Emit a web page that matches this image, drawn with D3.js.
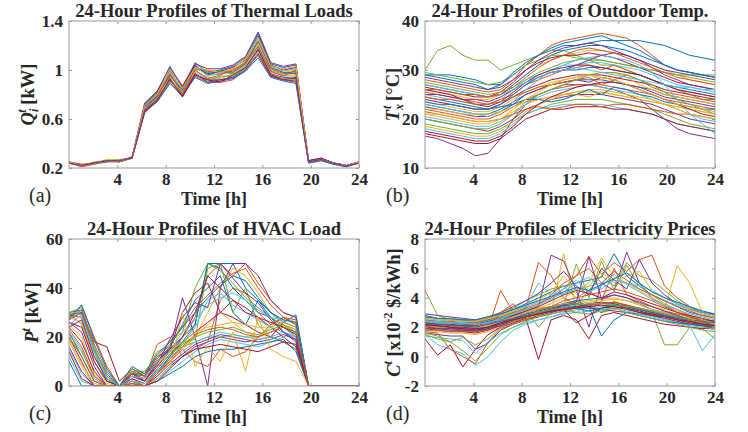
<!DOCTYPE html>
<html><head><meta charset="utf-8">
<script src="https://cdn.jsdelivr.net/npm/d3@7"></script>
<style>
html,body{margin:0;padding:0;background:#fff;}
svg text{font-family:"Liberation Serif","Times New Roman",Times,serif;fill:#262626;}
</style></head>
<body><svg id="c" width="748" height="432"></svg>
<script>
// ---------- DATA ----------
const nPts = 24;                       // 24 samples spread over 0..24 h
const xTicks = [4, 8, 12, 16, 20, 24];
const palette = ["#0072BD","#D95319","#EDB120","#7E2F8E","#77AC30","#4DBEEE","#A2142F"];

const thermalTicks = [0.2, 0.6, 1, 1.4];
const thermalLoads = [
 [0.25,0.22,0.24,0.26,0.26,0.28,0.72,0.82,1.03,0.85,1.06,0.98,1.00,1.03,1.10,1.30,1.05,1.02,1.04,0.26,0.28,0.24,0.22,0.25],
 [0.24,0.21,0.23,0.25,0.25,0.28,0.65,0.75,0.90,0.78,0.95,0.90,0.90,0.92,1.00,1.12,0.95,0.92,0.90,0.24,0.26,0.23,0.21,0.24],
 [0.25,0.22,0.24,0.27,0.26,0.29,0.70,0.80,0.98,0.84,1.02,0.97,0.96,1.00,1.07,1.26,1.02,0.98,1.00,0.25,0.27,0.24,0.22,0.25],
 [0.24,0.22,0.24,0.26,0.25,0.28,0.66,0.76,0.92,0.80,0.96,0.92,0.92,0.94,1.02,1.16,0.97,0.94,0.93,0.25,0.27,0.24,0.22,0.24],
 [0.25,0.22,0.25,0.26,0.27,0.28,0.69,0.79,0.96,0.83,1.00,1.00,0.98,0.97,1.04,1.20,1.00,0.96,0.98,0.25,0.27,0.24,0.22,0.25],
 [0.24,0.22,0.24,0.26,0.26,0.28,0.67,0.77,0.93,0.81,0.98,0.93,0.94,0.96,1.03,1.18,0.99,0.95,0.95,0.25,0.27,0.24,0.22,0.24],
 [0.25,0.23,0.24,0.26,0.26,0.28,0.71,0.81,1.00,0.86,1.04,0.96,0.99,1.02,1.08,1.28,1.04,1.00,1.02,0.26,0.28,0.24,0.22,0.25],
 [0.24,0.22,0.24,0.25,0.26,0.28,0.66,0.74,0.89,0.79,0.94,0.89,0.91,0.93,0.99,1.10,0.94,0.91,0.89,0.24,0.26,0.23,0.21,0.24],
 [0.25,0.22,0.24,0.26,0.26,0.28,0.70,0.78,0.97,0.82,1.01,0.99,0.97,0.99,1.06,1.24,1.01,0.97,0.99,0.25,0.27,0.24,0.22,0.25],
 [0.24,0.22,0.24,0.26,0.26,0.28,0.68,0.77,0.94,0.80,0.99,0.94,0.93,0.97,1.04,1.21,0.98,0.96,0.96,0.25,0.27,0.24,0.22,0.24],
 [0.25,0.22,0.24,0.26,0.26,0.29,0.73,0.83,1.02,0.87,1.05,1.01,1.01,1.04,1.11,1.31,1.06,1.03,1.05,0.26,0.28,0.24,0.22,0.25],
 [0.24,0.22,0.24,0.26,0.25,0.28,0.67,0.76,0.91,0.81,0.97,0.91,0.95,0.95,1.01,1.14,0.96,0.93,0.92,0.25,0.27,0.24,0.22,0.24],
 [0.25,0.22,0.24,0.26,0.26,0.28,0.69,0.80,0.99,0.83,1.03,0.95,0.97,1.01,1.09,1.27,1.03,0.99,1.01,0.25,0.27,0.24,0.22,0.25],
 [0.24,0.22,0.24,0.26,0.26,0.28,0.66,0.75,0.93,0.78,0.96,0.92,0.90,0.96,1.02,1.17,0.96,0.92,0.94,0.25,0.27,0.24,0.22,0.24],
 [0.25,0.22,0.24,0.26,0.26,0.28,0.70,0.79,0.95,0.84,1.03,0.97,0.99,0.98,1.05,1.23,1.02,0.98,0.97,0.25,0.27,0.24,0.22,0.25],
 [0.24,0.22,0.24,0.26,0.26,0.28,0.68,0.78,0.97,0.80,1.00,0.93,0.96,1.00,1.06,1.19,0.99,0.95,1.00,0.25,0.27,0.24,0.22,0.24],
 [0.25,0.22,0.24,0.26,0.26,0.28,0.71,0.80,1.01,0.85,1.02,1.00,0.98,1.01,1.09,1.25,1.03,1.01,1.03,0.25,0.27,0.24,0.22,0.25],
 [0.24,0.22,0.24,0.26,0.26,0.28,0.67,0.76,0.92,0.79,0.97,0.90,0.92,0.94,1.00,1.13,0.95,0.92,0.91,0.25,0.27,0.24,0.22,0.24]
];

const tempTicks = [10, 20, 30, 40];
const outdoorTemps = [
 [29,29,29,28.5,28,27,27,29,31,33,34,35,35,35.5,36,36,36,36,35.5,35,34,33,32.5,32],
 [28,27.5,27,26.5,26,25.5,26,28,31,33,35,36,36.5,37,37.5,37,36.5,35,33,31,30,29.5,29,28.5],
 [26,25.5,25,24.5,24,24,25,27,29,31,32,33,33.5,34,34,33.5,33,32,31,30,29,28,27.5,27],
 [16.5,16,15,14,12.5,13,16,20,23,25,26,27,27,27,26.5,26,25,24,22,20,18,17,16.5,16],
 [30,34,35,33,32,32,30,31,32,33,34,34,33,32,31,31,30,29,28,27,26,25,24,24],
 [25,24.5,24,23.5,23,23,24,26,28,29,30,31,31,31.5,31.5,31,30.5,30,29,28,27,26.5,26,25.5],
 [24,23.5,23,22.5,22,22,23,24.5,26,27,28,28.5,29,29,29,28.5,28,27.5,27,26,25.5,25,24.5,24],
 [23,22.5,22,21.5,21,21,22,23.5,25,26,27,27.5,28,28,28,27.5,27,26.5,26,25,24.5,24,23.5,23],
 [22,21.5,21,20.5,20,20,21,22.5,24,25,26,26.5,27,27,27,26.5,26,25.5,25,24,23.5,23,22.5,22],
 [21,20.5,20,19.5,19,19,20,21.5,23,24,24.5,25,25.5,25.5,25.5,25,24.5,24,23.5,23,22.5,22,21.5,21],
 [20,19.5,19,18.5,18,17.5,18.5,20,22,23,24,24.5,25,25,25,24.5,24,23.5,23,22,21,20,19.5,19],
 [19,18.5,18,17.5,17,17,18,19.5,21,22,23,23.5,24,24,24,23.5,23,22.5,22,21,20,19,18.5,18],
 [18,17.5,17,16.5,16,16,17,19,21,22,22.5,23,23,23,23,22.5,22,21.5,21,20,19,18.5,18,17.5],
 [17,16.5,16,15.5,15,15,16,18,20,21,22,22,22.5,22.5,22.5,22,22,21.5,21,20,19,18.5,18,17.5],
 [27,26.5,26,25.5,25,24.5,25,27,29,31,33,34,34.5,35,35,34.5,34,33,32,31,30,29.5,29,28.5],
 [25.5,25,24.5,24,23.5,23,24,25,27,28,29,30,30.5,31,30,31,30,29,28,27,26,25.5,25,24.5],
 [23.5,23,22.5,22,21.5,21.5,22.5,24,25.5,26.5,27.5,28,28.5,29,28,29.5,28.5,27,26,25,24.5,24,23.5,23],
 [22.5,22,21.5,21,20.5,20.5,21.5,23,25,26,27,27.5,28,27.5,28.5,28,27,26.5,25.5,24.5,24,23.5,23,22.5],
 [29.5,29,28.5,28,27.5,27,27.5,29,31,32,33,33,32.5,32,32,31.5,31,30.5,30,29.5,29,29,29,29],
 [20.5,20,19.5,19,18.5,18.5,19.5,21,23,24.5,25.5,26,26.5,27,26.5,26,25.5,25,24,23,22,21,20,19.5],
 [26.5,26,25.5,25,24.5,24.5,25.5,27.5,30,31.5,32.5,33,33,33.5,33,32.5,31.5,30.5,29.5,28.5,27.5,27,26.5,26],
 [24.5,24,23.5,23,22.5,22,23,25,27,28.5,29.5,30,30,30.5,30.5,30,29.5,29,28,27,26.5,26,25.5,25],
 [21.5,21,20.5,20,19.5,19.5,20,21,22,22.5,22,22.5,23,23,22.5,23,23,22.5,22,21.5,21,21,20.5,20],
 [18.5,18,17.5,17,16.5,16.5,17.5,19.5,21.5,23,24,25,25.5,26,26,25.5,25,24.5,24,23,22,21,20.5,20],
 [28.5,28,27.5,27,26.5,26,26.5,28,30,32,33.5,34.5,35,35.5,35,34,33,32,31,30,29.5,29,28.5,28],
 [27.5,27,26.5,26,25.5,25,25.5,26.5,28,29.5,30.5,31.5,32,32.5,32,31.5,31,30.5,30,29.5,29,28.5,28,27.5],
 [23,22.5,22,21.5,21,20.5,21.5,23.5,26,28,30,31,32,32.5,33,32.5,32,31,29.5,27,24,21,19,17],
 [26,25.5,25,24,23,22.5,23.5,25.5,27.5,29,30,30.5,31,31,30.5,30,29.5,29,28,27,26,25.5,25,24.5],
 [29,28.5,28,27.5,27,26,27,29.5,31.5,33,34.5,35.5,36,36.5,37,36,35,34,32.5,31,30,29.5,29,28.5],
 [24.5,24,24,23.5,23,23,23.5,24.5,25.5,26.5,27,27.5,28,28.5,27,28,29,28,26.5,25.5,25,24.5,24,23.5],
 [22,22,21.5,21,21,21,21.5,22.5,23.5,24,24.5,25,25,24.5,25.5,25,24.5,24,23.5,23,22.5,22,21.5,21],
 [25,25,24.5,24,24,23.5,24.5,26,27.5,28.5,29.5,30,31,32,33,33.5,33,32,30.5,29,28,27,26.5,26],
 [20,19.5,19,18.5,18,18,19,21,23.5,25,26,27,28,29,29.5,29.5,29,28,27,25.5,24,23,22,21],
 [27,26.5,26,25.5,25,24.5,25,26,27.5,28.5,29.5,30,30.5,30,29.5,29,28.5,28,27.5,27,26.5,26.5,26,26],
 [17.5,17,16.5,16,15.5,15.5,16.5,18.5,21,23,24.5,25.5,26.5,27,27.5,27.5,27,26,25,24,23,22,21,20.5],
 [23.5,23,23,22.5,22,22,22.5,23,24,24,23.5,24,25,26,25,26.5,26,25,24.5,23.5,23,22.5,22,22],
 [26,26,25.5,25,25,24.5,25,26.5,28.5,30.5,32,33,34,34.5,34,33.5,32.5,31.5,30.5,29.5,28.5,28,27.5,27],
 [21,21,20.5,20,19.5,19.5,20,22,24,25.5,27,28,28.5,29,28.5,28,27,26,25,24,23,22.5,22,21.5]
];

const hvacTicks = [0, 20, 40, 60];
const hvacLoads = [
 [30,31,15,5,0,0,0,5,12,18,25,50,50,50,40,35,28,24,22,0,0,0,0,0],
 [28,33,20,8,0,6,2,8,14,20,28,45,50,45,50,42,35,30,28,0,0,0,0,0],
 [25,20,5,0,0,3,0,5,10,15,20,30,40,48,45,38,30,25,20,0,0,0,0,0],
 [20,10,0,0,0,0,0,3,8,12,16,18,20,19,18,19,20,18,15,0,0,0,0,0],
 [30,25,10,2,0,5,5,10,14,16,18,20,20,21,20,20,22,24,20,0,0,0,0,0],
 [15,5,0,0,0,0,0,2,6,10,14,17,19,18,17,16,18,20,22,0,0,0,0,0],
 [27,30,18,16,2,7,4,12,15,30,38,42,30,28,25,22,20,26,24,0,0,0,0,0],
 [22,12,2,0,0,2,0,6,12,20,25,50,48,40,35,30,28,22,18,0,0,0,0,0],
 [29,28,12,3,0,5,3,17,20,12,15,18,35,40,38,30,25,28,25,0,0,0,0,0],
 [18,8,0,0,0,0,0,4,10,16,20,25,30,26,22,20,24,28,26,0,0,0,0,0],
 [26,22,8,0,0,4,2,8,15,36,20,0,40,50,50,45,35,30,28,0,0,0,0,0],
 [30,32,16,4,0,6,6,12,18,22,40,50,47,42,36,32,28,25,22,0,0,0,0,0],
 [12,2,0,0,0,0,0,3,8,14,18,20,22,21,20,19,20,22,20,0,0,0,0,0],
 [24,18,6,0,0,3,1,7,13,18,22,26,30,35,32,28,24,20,16,0,0,0,0,0],
 [29,30,14,2,0,5,4,10,16,25,35,40,45,30,25,35,30,26,29,0,0,0,0,0],
 [20,12,2,0,0,2,0,5,10,15,10,8,15,12,14,20,25,28,27,0,0,0,0,0],
 [28,26,10,1,0,4,3,9,14,18,22,24,25,26,25,24,24,26,24,0,0,0,0,0],
 [16,6,0,0,0,1,0,4,9,13,17,19,21,20,19,18,19,21,19,0,0,0,0,0],
 [30,29,15,4,0,7,5,14,16,18,19,48,50,30,40,25,20,18,15,0,0,0,0,0],
 [22,15,3,0,0,2,1,6,11,17,24,35,38,33,30,27,24,22,20,0,0,0,0,0],
 [26,24,10,2,0,5,2,10,15,20,30,45,40,35,30,28,26,24,21,0,0,0,0,0],
 [10,0,0,0,0,0,0,2,5,8,12,14,15,15,16,17,18,19,14,0,0,0,0,0],
 [28,31,17,6,0,6,4,11,17,24,32,37,42,46,48,40,33,28,25,0,0,0,0,0],
 [19,9,1,0,0,0,0,3,7,30,8,16,10,22,6,28,15,12,10,0,0,0,0,0],
 [24,27,12,3,0,4,2,9,19,28,34,32,50,44,38,34,27,22,19,0,0,0,0,0],
 [21,14,4,0,0,1,0,7,13,17,20,22,23,24,22,21,23,25,23,0,0,0,0,0],
 [25,29,14,3,0,4,3,10,14,22,27,33,36,38,35,31,28,27,26,0,0,0,0,0],
 [14,3,0,0,0,0,0,2,7,12,15,16,17,16,15,14,16,18,17,0,0,0,0,0],
 [27,33,19,7,0,8,5,13,18,24,30,36,41,45,43,36,30,27,26,0,0,0,0,0],
 [23,16,4,0,0,1,0,5,11,16,21,23,24,23,21,20,22,24,22,0,0,0,0,0]
];

const priceTicks = [-2, 0, 2, 4, 6, 8];
const elecPrices = [
 [2.0,2.1,2.0,2.0,1.9,2.1,2.4,2.7,3.0,3.2,3.4,3.6,3.8,3.9,4.0,4.2,4.0,3.6,3.2,3.0,2.8,2.5,2.3,2.2],
 [2.5,2.4,2.3,2.3,2.2,2.4,2.6,2.9,3.3,6.4,5.5,4.0,3.5,4.5,3.8,6.0,4.2,3.8,3.4,3.1,2.9,2.7,2.5,2.4],
 [1.8,1.7,1.6,1.6,1.5,1.7,2.0,2.3,2.6,2.8,3.0,7.0,3.2,3.5,3.2,3.8,3.4,3.1,2.8,2.6,2.4,2.2,2.0,1.9],
 [2.2,2.2,2.1,2.1,2.0,2.2,2.5,2.8,3.1,3.4,6.9,6.5,4.5,2.0,5.0,4.5,7.1,5.0,4.0,3.5,3.0,2.7,2.5,2.3],
 [4.5,2.8,2.5,2.4,2.3,2.5,2.7,3.0,3.2,2.0,3.0,3.3,3.0,3.6,3.0,3.2,3.5,3.2,3.0,0.8,0.8,2.0,1.9,1.2],
 [1.5,0.8,0.5,0.2,-0.6,0.0,1.0,1.8,2.2,2.5,2.7,3.0,3.2,3.3,3.4,3.5,3.3,3.0,2.8,2.5,2.3,2.1,2.0,1.8],
 [1.2,0.1,0.8,-0.7,0.5,1.5,2.0,2.3,2.6,-0.2,2.5,2.8,2.5,1.2,2.8,3.0,2.8,2.6,2.4,2.2,2.1,2.0,1.9,2.0],
 [2.8,2.6,2.5,2.5,2.4,2.6,2.9,3.2,3.6,4.0,4.4,4.8,5.0,5.2,5.4,7.0,5.5,4.8,4.2,3.8,3.4,3.0,2.8,2.7],
 [2.0,1.9,1.8,1.8,1.7,1.9,4.5,3.0,3.2,3.5,4.2,5.0,5.5,6.8,5.6,6.4,5.8,6.6,6.9,4.8,4.0,3.4,3.0,2.8],
 [2.3,2.3,2.2,2.2,2.1,2.3,2.6,2.9,3.1,3.3,3.4,3.5,3.6,3.7,3.8,3.9,3.8,3.6,3.4,3.2,6.2,5.0,3.0,2.6],
 [1.6,1.5,1.4,1.4,0.5,0.9,1.8,2.2,2.5,2.8,3.0,3.2,3.4,3.6,3.7,3.6,3.4,3.2,3.0,2.8,2.6,2.4,2.2,2.0],
 [2.1,2.0,2.0,1.9,1.9,2.0,2.3,2.6,2.9,3.1,3.3,3.5,6.3,4.0,6.5,4.5,6.2,4.8,4.2,3.6,3.2,2.8,2.5,2.3],
 [2.6,2.5,2.4,2.4,2.3,2.5,2.8,3.1,3.4,3.7,4.0,4.3,4.6,4.8,5.0,5.2,5.0,4.6,4.2,3.8,3.5,3.2,3.0,2.9],
 [1.9,1.8,1.7,1.7,1.6,1.8,2.1,2.4,2.7,2.9,3.1,3.3,3.4,3.5,3.6,3.7,3.5,3.3,3.1,2.9,2.7,2.5,2.3,2.1],
 [2.4,2.3,2.3,2.2,2.2,2.4,2.6,2.8,3.0,3.2,3.4,3.6,3.8,3.4,3.0,3.6,3.3,3.0,2.9,2.8,2.7,2.6,2.5,2.4],
 [1.7,1.6,0.5,0.0,-0.5,1.0,1.9,2.2,2.5,2.7,2.9,3.1,3.3,3.5,3.6,3.7,3.5,3.2,3.0,2.8,2.5,2.3,2.1,1.9],
 [2.2,2.1,2.1,2.0,2.0,2.2,2.4,2.7,3.0,3.3,3.6,4.0,4.5,5.0,6.7,5.4,5.0,4.5,4.0,3.5,3.1,2.8,2.5,2.3],
 [2.0,2.0,1.9,1.9,1.8,2.0,2.3,2.6,2.8,3.0,3.2,3.3,3.4,3.3,3.2,3.1,3.0,2.9,2.8,2.6,2.4,2.2,2.1,2.0],
 [2.7,2.6,2.5,2.5,2.4,2.6,2.9,3.3,3.8,4.2,4.6,4.8,4.0,4.5,5.5,4.8,6.4,5.5,5.2,4.5,3.8,3.3,3.0,2.8],
 [1.4,1.3,1.2,1.1,0.2,1.0,1.6,2.0,2.3,2.5,2.7,2.9,3.0,3.1,3.2,3.3,3.1,2.9,2.7,2.5,2.3,2.1,0.4,1.5],
 [2.3,2.2,2.2,2.1,2.1,2.3,2.5,2.8,3.1,3.4,3.8,4.2,4.5,4.3,4.0,4.4,4.2,3.9,3.6,3.3,3.0,2.8,2.6,2.4],
 [1.9,1.9,1.8,1.8,1.7,1.9,2.2,2.5,2.8,3.0,3.2,3.4,3.6,3.4,1.4,2.5,3.0,2.8,2.6,2.4,2.3,2.2,2.1,2.0],
 [2.5,2.4,2.4,2.3,2.3,2.5,2.7,3.0,3.3,3.6,4.0,4.6,5.5,6.0,5.0,5.8,5.2,4.6,4.2,3.8,3.4,3.1,2.8,2.6],
 [2.1,2.0,2.0,2.0,1.9,2.1,2.4,2.7,3.0,3.2,3.4,3.6,3.7,3.8,3.9,4.0,3.8,3.5,3.2,3.0,2.8,2.6,2.4,2.2],
 [2.9,2.8,2.7,2.6,2.5,2.7,3.0,3.4,3.8,4.3,5.0,5.8,4.8,4.2,6.0,5.2,4.6,6.6,5.0,4.2,3.6,3.2,3.0,2.9],
 [1.6,1.4,1.0,0.4,-0.3,0.6,1.5,2.0,2.4,2.7,2.9,3.1,3.0,2.9,3.1,3.3,3.0,2.8,2.6,2.4,2.2,2.0,1.8,1.7],
 [2.4,2.4,2.3,2.3,2.2,2.3,2.5,2.9,3.4,5.0,4.2,4.6,5.2,4.4,4.8,5.6,4.9,4.4,3.9,3.5,3.2,2.9,2.7,2.5],
 [2.2,2.1,2.0,1.9,1.8,2.0,2.2,2.5,2.7,2.9,3.1,3.2,3.3,3.4,3.5,3.4,3.3,3.1,2.9,2.7,2.5,2.3,2.2,2.1],
 [2.3,2.2,2.1,2.1,2.0,2.2,2.4,2.6,2.9,3.1,3.3,3.5,3.3,3.1,3.3,3.5,3.4,3.2,3.0,2.8,2.6,2.5,2.4,2.3],
 [1.8,1.8,1.7,1.7,1.7,1.8,3.0,3.6,2.5,3.2,3.4,3.8,4.0,4.2,4.4,4.6,4.4,4.1,3.8,3.4,3.0,2.7,2.4,2.1],
 [2.6,2.5,2.5,2.4,2.4,2.6,2.8,3.1,3.5,3.9,4.3,5.5,4.4,4.8,5.8,5.0,5.5,5.8,4.5,4.0,3.6,3.2,2.9,2.7],
 [2.0,1.9,1.9,1.8,1.8,1.9,2.1,2.4,2.7,3.0,3.2,3.5,3.7,6.8,3.9,4.2,4.0,3.7,3.4,3.1,2.8,2.5,2.3,2.1],
 [1.5,1.2,1.0,1.3,0.8,1.2,2.0,2.4,2.7,3.0,3.2,3.3,3.5,3.6,3.6,3.5,3.4,3.3,3.1,2.9,2.7,2.5,2.3,2.0],
 [2.4,2.3,2.3,2.3,2.2,2.3,2.6,2.9,3.2,3.5,3.9,4.4,5.0,5.4,4.6,5.2,5.0,4.8,4.5,4.0,3.6,3.3,3.0,2.8],
 [2.1,2.1,2.0,2.0,1.9,2.0,2.3,2.5,2.7,2.9,3.1,3.2,2.3,2.8,3.3,3.4,3.2,3.0,2.8,2.7,2.5,2.4,2.2,2.1],
 [2.7,2.6,2.6,2.5,2.5,2.7,2.9,3.2,3.5,3.8,4.1,4.4,4.7,4.5,4.9,5.3,5.7,5.0,4.4,4.0,3.7,3.4,3.1,2.9]
];

// ---------- DRAW ----------
const svg = d3.select("#c");
const hours = d3.range(nPts).map(i => i * 24 / (nPts - 1));
const FONT = "Liberation Serif";

const panels = [
 {data: thermalLoads, ticks: thermalTicks, dom:[0.2,1.4], x0:69, x1:359, y0:21, y1:168,
  title:"24-Hour Profiles of Thermal Loads", tag:"(a)", tagX:29, ylx:34,
  ylab:[{t:"Q",i:1},{t:"i",i:1,sub:1},{t:"t",i:1,sup:1,dx:-4},{t:" [kW]"}]},
 {data: outdoorTemps, ticks: tempTicks, dom:[10,40], x0:425, x1:715, y0:21, y1:168,
  title:"24-Hour Profiles of Outdoor Temp.", tag:"(b)", tagX:386, ylx:399,
  ylab:[{t:"T",i:1},{t:"x",i:1,sub:1},{t:"t",i:1,sup:1,dx:-5},{t:" [°C]"}]},
 {data: hvacLoads, ticks: hvacTicks, dom:[0,60], x0:69, x1:359, y0:239, y1:386,
  title:"24-Hour Profiles of HVAC Load", tag:"(c)", tagX:29, ylx:38,
  ylab:[{t:"P",i:1},{t:"t",i:1,sup:1},{t:" [kW]"}]},
 {data: elecPrices, ticks: priceTicks, dom:[-2,8], x0:425, x1:715, y0:239, y1:386,
  title:"24-Hour Profiles of Electricity Prices", tag:"(d)", tagX:386, ylx:400,
  ylab:[{t:"C",i:1},{t:"t",i:1,sup:1},{t:" [x10"},{t:"-2",sup:1},{t:" $/kWh]"}]}
];

panels.forEach((p, pi) => {
  const x = d3.scaleLinear().domain([0,24]).range([p.x0, p.x1]);
  const y = d3.scaleLinear().domain(p.dom).range([p.y1, p.y0]);
  const g = svg.append("g");
  const cid = "clip" + pi;
  g.append("clipPath").attr("id", cid).append("rect")
    .attr("x", p.x0).attr("y", p.y0).attr("width", p.x1 - p.x0).attr("height", p.y1 - p.y0);

  const line = d3.line().x((d, i) => x(hours[i])).y(d => y(d));
  g.append("g").attr("clip-path", `url(#${cid})`)
    .selectAll("path").data(p.data).join("path")
    .attr("d", line).attr("fill", "none")
    .attr("stroke", (d, i) => palette[i % palette.length])
    .attr("stroke-width", 1).attr("stroke-linejoin", "round");

  // box
  g.append("rect").attr("x", p.x0).attr("y", p.y0)
    .attr("width", p.x1 - p.x0).attr("height", p.y1 - p.y0)
    .attr("fill", "none").attr("stroke", "#9a9a9a").attr("stroke-width", 1);

  const style = sel => {
    sel.attr("font-family", FONT);
    sel.select(".domain").remove();
    sel.selectAll(".tick line").attr("stroke", "#9a9a9a");
    sel.selectAll(".tick text").attr("font-family", FONT)
      .attr("font-size", 17).attr("font-weight", "bold").attr("fill", "#262626");
  };
  g.append("g").attr("transform", `translate(0,${p.y1})`)
    .call(d3.axisBottom(x).tickValues(xTicks).tickSize(-3).tickPadding(5).tickFormat(d => String(d)))
    .call(style);
  g.append("g").attr("transform", `translate(0,${p.y0})`)
    .call(d3.axisTop(x).tickValues(xTicks).tickSize(-3).tickFormat(""))
    .call(style);
  g.append("g").attr("transform", `translate(${p.x0},0)`)
    .call(d3.axisLeft(y).tickValues(p.ticks).tickSize(-3).tickPadding(6).tickFormat(d => String(d)))
    .call(style);
  g.append("g").attr("transform", `translate(${p.x1},0)`)
    .call(d3.axisRight(y).tickValues(p.ticks).tickSize(-3).tickFormat(""))
    .call(style);

  const cx = (p.x0 + p.x1) / 2;
  g.append("text").attr("x", cx).attr("y", p.y0 - 4).attr("text-anchor", "middle")
    .attr("font-family", FONT).attr("font-size", 18.5).attr("font-weight", "bold").text(p.title);
  g.append("text").attr("x", cx).attr("y", p.y1 + 37).attr("text-anchor", "middle")
    .attr("font-family", FONT).attr("font-size", 18).attr("font-weight", "bold").text("Time [h]");
  g.append("text").attr("x", p.tagX).attr("y", p.y1 + 34)
    .attr("font-family", FONT).attr("font-size", 20).text(p.tag);

  // y label with sub/superscripts
  const cy = (p.y0 + p.y1) / 2;
  const yt = g.append("text").attr("transform", `translate(${p.ylx},${cy}) rotate(-90)`)
    .attr("text-anchor", "middle").attr("font-family", FONT)
    .attr("font-size", 18.5).attr("font-weight", "bold");
  let off = 0;
  p.ylab.forEach(s => {
    let target = 0, fs = 18.5;
    if (s.sub) { target = 4; fs = 12; }
    if (s.sup) { target = -8; fs = 12; }
    const ts = yt.append("tspan").attr("dy", target - off).attr("font-size", fs).text(s.t);
    if (s.i) ts.attr("font-style", "italic");
    if (s.dx) ts.attr("dx", s.dx);
    off = target;
  });
});
</script></body></html>
